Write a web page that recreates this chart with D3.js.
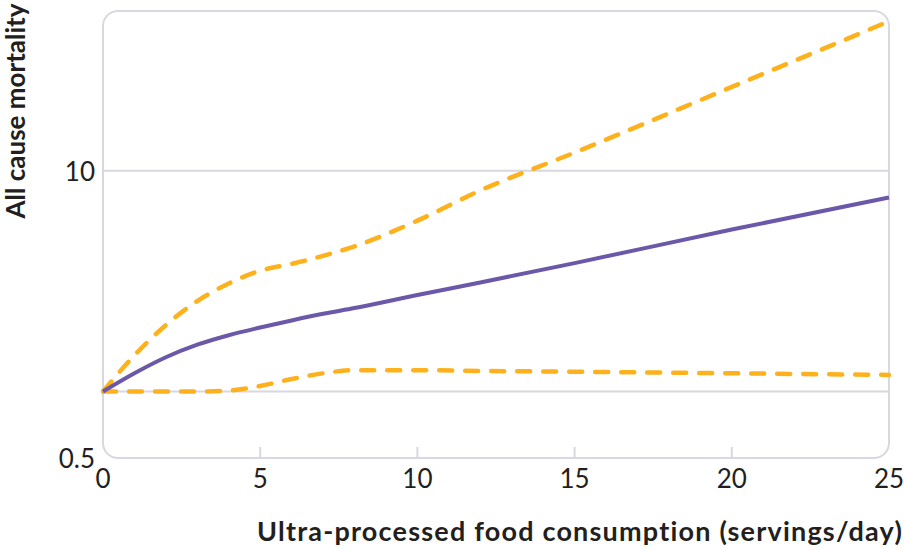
<!DOCTYPE html>
<html>
<head>
<meta charset="utf-8">
<script src="https://cdn.jsdelivr.net/npm/d3@7"></script>
<style>
  body { margin: 0; background: #fff; }
  svg { display: block; }
</style>
</head>
<body>
<svg id="chart" width="904" height="550"></svg>
<script>
// servings/day at which the curves were read
let servings = [0, 1, 2, 3, 4, 5, 6, 7, 8, 10, 12, 15, 20, 25];
// hazard estimate and 95% CI bounds (log scale)
let estimate = [1.00, 1.21, 1.43, 1.63, 1.80, 1.95, 2.10, 2.25, 2.39, 2.74, 3.12, 3.82, 5.42, 7.57];
let upperCI  = [1.00, 1.46, 2.00, 2.57, 3.09, 3.53, 3.79, 4.12, 4.55, 5.95, 8.15, 12.1, 24.0, 47.6];
let lowerCI  = [1.00, 1.00, 1.00, 1.00, 1.01, 1.06, 1.14, 1.21, 1.25, 1.25, 1.24, 1.23, 1.21, 1.19];

let xTicks = [0, 5, 10, 15, 20, 25];
let yLabelTicks = [0.5, 10];
let yGridTicks = [1, 10];

let purple = "#6b58a8";
let orange = "#fdb11c";
let frameColor = "#d7d8e0";

let margin = {left: 103, right: 15, top: 11, bottom: 92};
let W = 904, H = 550;

let svg = d3.select("#chart");

let xScale = d3.scaleLinear()
  .domain([0, 25])
  .range([margin.left, W - margin.right]);

let yScale = d3.scaleLog()
  .domain([0.5, 53])
  .range([H - margin.bottom, margin.top]);

// gridlines
svg.selectAll(".grid")
  .data(yGridTicks)
  .join("line")
  .attr("class", "grid")
  .attr("x1", margin.left)
  .attr("x2", W - margin.right)
  .attr("y1", d => yScale(d))
  .attr("y2", d => yScale(d))
  .attr("stroke", frameColor)
  .attr("stroke-width", 2);

// rounded frame
svg.append("rect")
  .attr("x", margin.left)
  .attr("y", margin.top)
  .attr("width", W - margin.right - margin.left)
  .attr("height", H - margin.bottom - margin.top)
  .attr("rx", 15)
  .attr("fill", "none")
  .attr("stroke", frameColor)
  .attr("stroke-width", 2);

// inner tick marks on the bottom edge
svg.selectAll(".xtick")
  .data(xTicks.filter(d => d > 0 && d < 25))
  .join("line")
  .attr("class", "xtick")
  .attr("x1", d => xScale(d))
  .attr("x2", d => xScale(d))
  .attr("y1", yScale(0.5))
  .attr("y2", yScale(0.5) - 11)
  .attr("stroke", frameColor)
  .attr("stroke-width", 2);

// tick labels
svg.selectAll(".xlab")
  .data(xTicks)
  .join("text")
  .attr("class", "xlab")
  .attr("x", d => xScale(d))
  .attr("y", yScale(0.5) + 30)
  .attr("text-anchor", "middle")
  .style("font-family", "Lato, sans-serif")
  .style("font-size", "26px")
  .attr("fill", "#231f20")
  .text(d => d);

svg.selectAll(".ylab")
  .data(yLabelTicks)
  .join("text")
  .attr("class", "ylab")
  .attr("x", margin.left - 8)
  .attr("y", d => yScale(d) + 10)
  .attr("text-anchor", "end")
  .style("font-family", "Lato, sans-serif")
  .style("font-size", "26px")
  .attr("fill", "#231f20")
  .text(d => d);

// lines
let line = (vals) => d3.line()
  .x((d, i) => xScale(servings[i]))
  .y(d => yScale(d))
  .curve(d3.curveMonotoneX)(vals);

[upperCI, lowerCI].forEach(vals => {
  svg.append("path")
    .attr("d", line(vals))
    .attr("fill", "none")
    .attr("stroke", orange)
    .attr("stroke-width", 4.5)
    .attr("stroke-linecap", "round")
    .attr("stroke-dasharray", "13,13");
});

svg.append("path")
  .attr("d", line(estimate))
  .attr("fill", "none")
  .attr("stroke", purple)
  .attr("stroke-width", 4);

// axis titles
svg.append("text")
  .attr("x", W - 1)
  .attr("y", 541)
  .attr("text-anchor", "end")
  .style("font-family", "Lato, sans-serif")
  .style("font-weight", "bold")
  .style("font-size", "27px")
  .style("letter-spacing", "1.2px")
  .attr("fill", "#231f20")
  .text("Ultra-processed food consumption (servings/day)");

svg.append("text")
  .attr("transform", "translate(25,111) rotate(-90)")
  .attr("text-anchor", "middle")
  .style("font-family", "Lato, sans-serif")
  .style("font-weight", "bold")
  .style("font-size", "26px")
  .attr("fill", "#231f20")
  .text("All cause mortality");
</script>
</body>
</html>
